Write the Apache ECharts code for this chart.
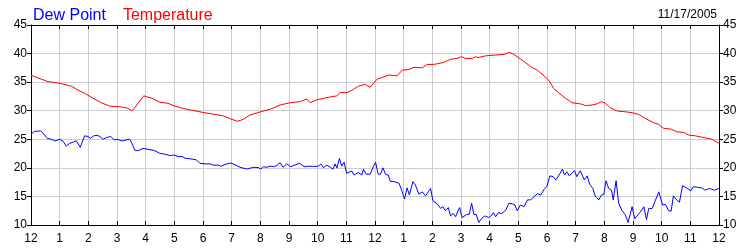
<!DOCTYPE html>
<html>
<head>
<meta charset="utf-8">
<script src="https://cdn.jsdelivr.net/npm/echarts@6/dist/echarts.min.js"></script>
<style>
html,body{margin:0;padding:0;background:#fff;}
#chart{width:750px;height:250px;}
</style>
</head>
<body>
<div id="chart"></div>
<script>
// Hours of day (0 = midnight, 24 = next midnight) and readings in °F
const dateLabel = '11/17/2005';
const seriesNames = ['Dew Point', 'Temperature'];
const hourTicks = [12,1,2,3,4,5,6,7,8,9,10,11,12,1,2,3,4,5,6,7,8,9,10,11,12];

const tempHours = [0,0.59,1.0,1.41,1.64,1.87,2.16,2.45,2.75,3.1,3.33,3.54,3.93,4.2,4.49,4.78,5.02,5.3,5.6,6.0,6.36,6.71,7.0,7.2,7.41,7.64,8.0,8.34,8.69,9.04,9.39,9.62,9.74,9.97,10.32,10.67,10.79,11.02,11.25,11.42,11.66,11.83,12.08,12.25,12.48,12.77,12.95,13.18,13.36,13.65,13.82,14.05,14.4,14.63,14.87,15.02,15.16,15.39,15.51,15.6,15.86,16.2,16.5,16.67,16.79,16.96,17.2,17.43,17.66,17.9,18.08,18.23,18.4,18.64,18.87,19.16,19.34,19.57,19.75,19.9,20.04,20.21,20.45,20.75,20.97,21.2,21.43,21.72,21.9,22.07,22.31,22.54,22.77,22.94,23.18,23.41,23.76,23.94,24];
const tempValues = [36.2,35.1,34.8,34.3,33.6,33.05,32.2,31.4,30.8,30.7,30.5,30.0,32.6,32.2,31.5,31.3,30.8,30.4,30.1,29.7,29.4,29.1,28.5,28.15,28.5,29.25,29.8,30.25,31.0,31.4,31.6,32.05,31.4,31.9,32.3,32.6,33.2,33.15,33.75,34.3,34.6,34.1,35.55,35.8,36.25,36.1,37.1,37.2,37.6,37.5,38.1,38.1,38.45,39.0,39.15,39.45,39.15,39.15,39.45,39.3,39.6,39.75,39.85,40.2,40.0,39.45,38.6,37.7,37.1,36.1,35.2,33.9,33.15,32.2,31.4,31.2,30.9,31.0,31.2,31.6,31.3,30.5,29.95,29.8,29.65,29.35,28.65,27.9,27.6,26.9,26.8,26.3,26.2,25.75,25.6,25.35,25.0,24.45,24.3];

const dewHours = [0,0.13,0.34,0.45,0.57,0.71,0.83,1.0,1.12,1.23,1.35,1.47,1.58,1.64,1.72,1.87,1.99,2.07,2.19,2.3,2.4,2.51,2.63,2.78,2.9,3.01,3.18,3.33,3.44,3.52,3.62,3.73,3.91,4.08,4.32,4.49,4.67,4.84,5.01,5.13,5.27,5.37,5.54,5.77,5.89,6.07,6.25,6.36,6.55,6.62,6.77,6.97,7.12,7.29,7.53,7.76,7.93,8.02,8.11,8.22,8.34,8.46,8.57,8.69,8.79,8.92,9.06,9.21,9.37,9.53,9.68,9.85,10.03,10.11,10.2,10.32,10.44,10.53,10.61,10.67,10.76,10.84,10.92,11.01,11.19,11.27,11.42,11.54,11.6,11.69,11.83,11.95,12.02,12.11,12.19,12.28,12.37,12.46,12.54,12.66,12.72,12.84,12.93,13.03,13.12,13.2,13.32,13.41,13.53,13.65,13.76,13.86,13.94,14.02,14.17,14.29,14.37,14.46,14.56,14.63,14.73,14.81,14.95,15.04,15.2,15.29,15.37,15.45,15.53,15.62,15.73,15.84,15.96,16.05,16.13,16.21,16.3,16.42,16.56,16.67,16.79,16.88,16.96,17.07,17.2,17.32,17.43,17.55,17.67,17.78,17.9,18.0,18.1,18.22,18.31,18.46,18.54,18.61,18.69,18.78,18.87,18.96,19.04,19.16,19.22,19.3,19.4,19.49,19.6,19.69,19.81,19.9,19.98,20.06,20.15,20.25,20.31,20.41,20.5,20.62,20.73,20.83,20.97,21.06,21.18,21.28,21.38,21.47,21.55,21.67,21.76,21.9,22.03,22.13,22.25,22.33,22.41,22.52,22.62,22.73,22.86,23.02,23.1,23.25,23.4,23.52,23.66,23.84,24.0];
const dewValues = [25.9,26.4,26.45,25.9,25.15,25.0,24.7,25.0,24.65,23.8,24.3,24.5,24.75,24.4,23.6,25.6,25.5,25.15,25.6,25.7,25.5,25.0,25.3,25.5,24.9,25.0,24.7,24.9,25.0,24.3,23.1,23.0,23.4,23.25,23.0,22.55,22.4,22.15,22.25,21.95,22.0,21.7,21.6,21.4,20.8,20.7,20.7,20.45,20.5,20.25,20.6,20.85,20.55,20.1,19.8,20.1,20.05,19.8,20.2,20.1,20.3,20.2,20.4,20.9,20.1,20.7,20.2,20.5,20.8,20.2,20.3,20.25,20.3,20.7,20.05,20.45,20.1,19.75,20.7,19.95,21.65,20.3,21.0,19.05,19.45,18.75,19.2,18.75,19.75,18.9,18.9,20.3,21.0,18.9,18.9,20.0,18.85,18.75,17.6,17.6,17.9,17.3,16.1,14.55,16.5,15.25,17.6,17.0,15.4,15.8,15.1,15.8,16.4,14.25,13.7,12.9,13.2,12.5,13.05,11.6,12.0,11.45,13.05,11.3,11.85,11.9,13.8,11.85,11.85,10.45,11.2,11.6,11.3,11.6,12.15,11.45,12.15,12.0,12.6,13.8,13.7,13.5,12.5,13.5,13.2,14.4,14.4,14.95,15.5,15.25,16.25,16.8,18.6,18.45,17.9,19.05,19.8,18.75,19.3,18.6,19.05,19.5,18.45,19.5,19.5,17.9,18.6,17.1,16.4,14.95,14.4,15.25,15.35,17.75,16.4,16.1,14.4,17.75,13.8,12.5,11.8,10.45,13.2,11.1,11.8,12.45,13.2,10.95,12.9,12.9,14.05,15.8,13.5,13.6,12.45,12.45,15.1,14.4,14.0,16.9,16.5,16.0,16.7,16.6,16.5,16.1,16.4,16.1,16.4];

const pair = (xs, ys) => xs.map((x, i) => [x, ys[i]]);

const FONT = '"Liberation Sans", Arial, sans-serif';
const chart = echarts.init(document.getElementById('chart'), null, {renderer: 'canvas'});

const xCommon = {
  type: 'value', min: 0, max: 24, interval: 1,
  axisLine: {show: true, onZero: false, lineStyle: {color: '#000', width: 1}},
  axisTick: {show: true, inside: true, length: 4, lineStyle: {color: '#000'}},
};
const yCommon = {
  type: 'value', min: 10, max: 45, interval: 5,
  axisLine: {show: true, onZero: false, lineStyle: {color: '#000', width: 1}},
  axisTick: {show: true, inside: false, length: 4, lineStyle: {color: '#000'}},
  axisLabel: {color: '#000', fontSize: 12, fontFamily: FONT, margin: 4},
};

chart.setOption({
  animation: false,
  backgroundColor: '#fff',
  grid: {left: 31, right: 31, top: 25, bottom: 25, containLabel: false},
  title: {
    text: dateLabel, right: 28, top: 4,
    textStyle: {fontSize: 12, fontWeight: 'normal', color: '#000', fontFamily: FONT}
  },
  legend: {
    left: 23, top: 3, icon: 'none', itemWidth: 0, itemGap: 12,
    textStyle: {fontSize: 16, fontFamily: FONT},
    data: [
      {name: seriesNames[0], textStyle: {color: '#0000ff'}},
      {name: seriesNames[1], textStyle: {color: '#ff0000'}}
    ]
  },
  xAxis: [
    Object.assign({}, xCommon, {
      position: 'bottom',
      splitLine: {show: true, lineStyle: {color: '#cccccc', width: 1}},
      axisLabel: {color: '#000', fontSize: 12, fontFamily: FONT, margin: 8,
        formatter: v => String(hourTicks[Math.round(v)])}
    }),
    Object.assign({}, xCommon, {
      position: 'top', splitLine: {show: false}, axisLabel: {show: false}
    })
  ],
  yAxis: [
    Object.assign({}, yCommon, {
      position: 'left',
      splitLine: {show: true, lineStyle: {color: '#cccccc', width: 1}}
    }),
    Object.assign({}, yCommon, {
      position: 'right', splitLine: {show: false}
    })
  ],
  series: [
    {
      name: seriesNames[0], type: 'line', data: pair(dewHours, dewValues),
      showSymbol: false, symbol: 'none', color: '#0000ff',
      lineStyle: {color: '#0000ff', width: 1}, z: 3
    },
    {
      name: seriesNames[1], type: 'line', data: pair(tempHours, tempValues),
      showSymbol: false, symbol: 'none', color: '#ff0000',
      lineStyle: {color: '#ff0000', width: 1}, z: 3
    }
  ]
});
</script>
</body>
</html>
